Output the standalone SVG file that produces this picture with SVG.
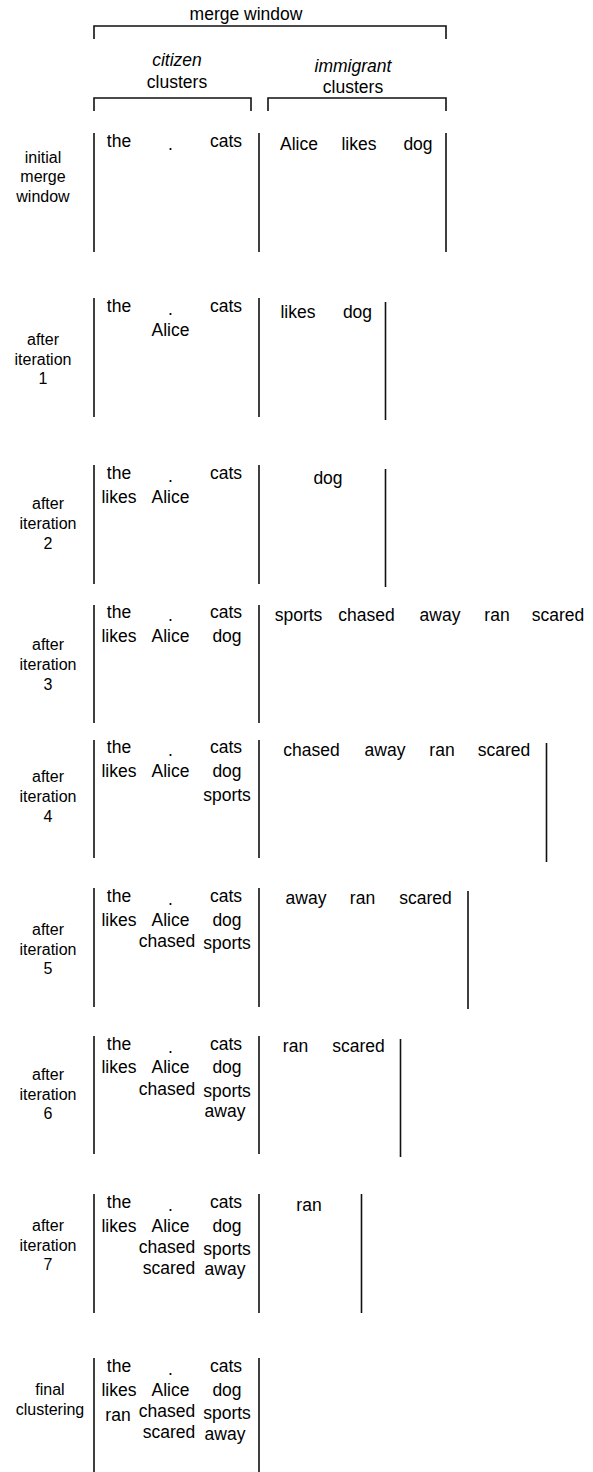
<svg xmlns="http://www.w3.org/2000/svg" width="593" height="1472" viewBox="0 0 593 1472">
<style>
text{font-family:"Liberation Sans",Arial,Helvetica,sans-serif;fill:#000;text-anchor:middle}
.w{font-size:17.5px}
.l{font-size:16px}
.i{font-style:italic}
.b{stroke:#111;stroke-width:1.6;fill:none}
</style>
<rect width="593" height="1472" fill="#fff"/>
<g id="header">
<text class="w" x="246" y="20">merge window</text>
<text class="w i" x="177" y="66">citizen</text>
<text class="w" x="177" y="88">clusters</text>
<text class="w i" x="353" y="72">immigrant</text>
<text class="w" x="353" y="93">clusters</text>
</g>
<g id="connectors">
<path class="b" d="M94,39V26H446V39"/>
<path class="b" d="M94,111V98H251V111"/>
<path class="b" d="M268,111V98H446V111"/>
<path class="b" d="M94,133V252M259,133V252M446,133V252"/>
<path class="b" d="M94,298V417M259,298V417M385.5,302V420"/>
<path class="b" d="M94,465V584M259,465V584M385.5,469V587"/>
<path class="b" d="M94,605V723M259,605V723"/>
<path class="b" d="M94,740V858M259,740V858M546.5,743V862"/>
<path class="b" d="M94,888V1007M259,888V1007M468,891V1009"/>
<path class="b" d="M94,1036V1154M259,1036V1154M400.5,1039V1157"/>
<path class="b" d="M94,1194V1313M259,1194V1313M361.5,1194V1313"/>
<path class="b" d="M94,1358V1472M259,1358V1472"/>
</g>
<g id="row0">
<text class="l" x="43" y="163">initial</text>
<text class="l" x="43" y="182">merge</text>
<text class="l" x="43" y="202">window</text>
<text class="w" x="119" y="147">the</text>
<text class="w" x="170.5" y="150">.</text>
<text class="w" x="226" y="147">cats</text>
<text class="w" x="299" y="150">Alice</text>
<text class="w" x="359" y="150">likes</text>
<text class="w" x="418" y="150">dog</text>
</g>
<g id="row1">
<text class="l" x="43" y="345">after</text>
<text class="l" x="43" y="365">iteration</text>
<text class="l" x="43" y="384">1</text>
<text class="w" x="119" y="312">the</text>
<text class="w" x="170.5" y="315">.</text>
<text class="w" x="226" y="312">cats</text>
<text class="w" x="170.5" y="336">Alice</text>
<text class="w" x="298" y="318">likes</text>
<text class="w" x="357.5" y="318">dog</text>
</g>
<g id="row2">
<text class="l" x="48" y="509">after</text>
<text class="l" x="48" y="529">iteration</text>
<text class="l" x="48" y="549">2</text>
<text class="w" x="119" y="479">the</text>
<text class="w" x="170.5" y="482">.</text>
<text class="w" x="226" y="479">cats</text>
<text class="w" x="119" y="503">likes</text>
<text class="w" x="170.5" y="503">Alice</text>
<text class="w" x="328" y="484">dog</text>
</g>
<g id="row3">
<text class="l" x="48" y="650">after</text>
<text class="l" x="48" y="670">iteration</text>
<text class="l" x="48" y="690">3</text>
<text class="w" x="119" y="618">the</text>
<text class="w" x="170.5" y="621">.</text>
<text class="w" x="226" y="618">cats</text>
<text class="w" x="119" y="642">likes</text>
<text class="w" x="170.5" y="642">Alice</text>
<text class="w" x="227" y="642">dog</text>
<text class="w" x="298.5" y="621">sports</text>
<text class="w" x="366.5" y="621">chased</text>
<text class="w" x="440" y="621">away</text>
<text class="w" x="497" y="621">ran</text>
<text class="w" x="558" y="621">scared</text>
</g>
<g id="row4">
<text class="l" x="48" y="782">after</text>
<text class="l" x="48" y="802">iteration</text>
<text class="l" x="48" y="822">4</text>
<text class="w" x="119" y="753">the</text>
<text class="w" x="170.5" y="756">.</text>
<text class="w" x="226" y="753">cats</text>
<text class="w" x="119" y="777">likes</text>
<text class="w" x="170.5" y="777">Alice</text>
<text class="w" x="227" y="777">dog</text>
<text class="w" x="227" y="801">sports</text>
<text class="w" x="311.5" y="756">chased</text>
<text class="w" x="385" y="756">away</text>
<text class="w" x="442" y="756">ran</text>
<text class="w" x="504" y="756">scared</text>
</g>
<g id="row5">
<text class="l" x="48" y="935">after</text>
<text class="l" x="48" y="955">iteration</text>
<text class="l" x="48" y="974">5</text>
<text class="w" x="119" y="902">the</text>
<text class="w" x="170.5" y="905">.</text>
<text class="w" x="226" y="902">cats</text>
<text class="w" x="119" y="926">likes</text>
<text class="w" x="170.5" y="926">Alice</text>
<text class="w" x="227" y="926">dog</text>
<text class="w" x="167" y="947">chased</text>
<text class="w" x="227" y="949">sports</text>
<text class="w" x="306" y="904">away</text>
<text class="w" x="362.5" y="904">ran</text>
<text class="w" x="425.5" y="904">scared</text>
</g>
<g id="row6">
<text class="l" x="48" y="1080">after</text>
<text class="l" x="48" y="1100">iteration</text>
<text class="l" x="48" y="1119">6</text>
<text class="w" x="119" y="1050">the</text>
<text class="w" x="170.5" y="1053">.</text>
<text class="w" x="226" y="1050">cats</text>
<text class="w" x="119" y="1073">likes</text>
<text class="w" x="170.5" y="1073">Alice</text>
<text class="w" x="227" y="1073">dog</text>
<text class="w" x="167" y="1095">chased</text>
<text class="w" x="227" y="1097">sports</text>
<text class="w" x="225" y="1117">away</text>
<text class="w" x="295.5" y="1052">ran</text>
<text class="w" x="358.5" y="1052">scared</text>
</g>
<g id="row7">
<text class="l" x="48" y="1231">after</text>
<text class="l" x="48" y="1251">iteration</text>
<text class="l" x="48" y="1270">7</text>
<text class="w" x="119" y="1208">the</text>
<text class="w" x="170.5" y="1211">.</text>
<text class="w" x="226" y="1208">cats</text>
<text class="w" x="119" y="1232">likes</text>
<text class="w" x="170.5" y="1232">Alice</text>
<text class="w" x="227" y="1232">dog</text>
<text class="w" x="167" y="1253">chased</text>
<text class="w" x="227" y="1255">sports</text>
<text class="w" x="169" y="1274">scared</text>
<text class="w" x="225" y="1275">away</text>
<text class="w" x="309" y="1211">ran</text>
</g>
<g id="row8">
<text class="l" x="50" y="1395">final</text>
<text class="l" x="50" y="1415">clustering</text>
<text class="w" x="119" y="1372">the</text>
<text class="w" x="170.5" y="1375">.</text>
<text class="w" x="226" y="1372">cats</text>
<text class="w" x="119" y="1396">likes</text>
<text class="w" x="170.5" y="1396">Alice</text>
<text class="w" x="227" y="1396">dog</text>
<text class="w" x="118" y="1421">ran</text>
<text class="w" x="167" y="1417">chased</text>
<text class="w" x="227" y="1419">sports</text>
<text class="w" x="169" y="1438">scared</text>
<text class="w" x="225" y="1440">away</text>
</g>
</svg>
